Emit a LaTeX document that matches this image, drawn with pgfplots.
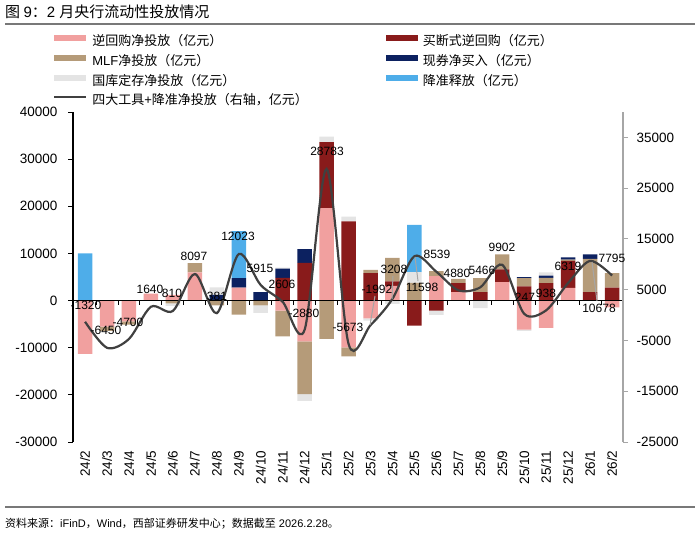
\documentclass[border=0pt]{standalone}
\usepackage{fontspec}
\setmainfont{Liberation Sans}
\newfontfamily\cjk{Noto Sans CJK SC}
\usepackage{pgfplots}
\usepackage{pgfplotstable}
\pgfplotsset{compat=1.18}

\definecolor{cpink}{RGB}{241,160,159}
\definecolor{cdred}{RGB}{137,27,27}
\definecolor{ctan}{RGB}{181,155,121}
\definecolor{cnavy}{RGB}{12,33,96}
\definecolor{cgray}{RGB}{228,228,228}
\definecolor{cblue}{RGB}{78,173,233}
\definecolor{cline}{RGB}{64,64,64}
\definecolor{crax}{RGB}{166,166,166}
\definecolor{crule}{RGB}{120,120,120}

% positive parts of each series
\pgfplotstableread{
x pink dred tan navy gray blue
0 0 0 0 0 0 10000
1 0 0 0 0 0 0
2 0 0 0 0 0 0
3 1500 0 0 0 0 0
4 1200 0 0 0 0 0
5 6000 0 1950 0 0 0
6 0 0 0 1200 1600 0
7 2750 0 0 2000 0 10000
8 0 0 0 1800 0 0
9 0 4800 0 2000 200 0
10 0 8000 0 2900 0 0
11 19600 14000 0 0 1200 0
12 0 16800 0 0 1000 0
13 0 5800 700 0 0 0
14 3100 950 5000 0 0 0
15 0 0 3750 0 2300 10000
16 5180 0 1060 0 0 0
17 1770 1920 930 0 0 0
18 0 1770 2980 0 0 0
19 3900 2700 3200 0 0 0
20 0 3000 1750 250 0 0
21 0 3700 1100 500 700 0
22 2700 5700 300 450 0 0
23 0 1770 7100 920 0 0
24 0 2750 3060 0 0 0
}\tpos

% negative parts of each series
\pgfplotstableread{
x pink dred tan navy gray blue
0 -11320 0 0 0 0 0
1 -5510 0 -940 0 0 0
2 -4400 0 -700 0 0 0
3 0 0 0 0 0 0
4 0 0 -600 0 -500 0
5 0 0 0 0 0 0
6 0 0 -1000 0 0 0
7 0 0 -3000 0 0 0
8 0 0 -1000 0 -1600 0
9 -2130 0 -5460 0 0 0
10 -8650 0 -11200 0 -1400 0
11 0 0 -8150 0 0 0
12 -9930 0 -1900 0 0 0
13 -3760 0 0 0 -500 0
14 0 0 0 0 -700 0
15 0 -5300 0 0 0 0
16 0 -2130 0 0 -900 0
17 0 0 0 0 0 0
18 0 0 0 0 -1600 0
19 0 0 0 0 0 0
20 -6170 0 0 0 -250 0
21 -5800 0 0 0 0 0
22 0 0 0 0 0 0
23 0 0 0 0 0 0
24 -1420 0 0 0 0 0
}\tneg

% four tools + RRR net injection (right axis)
\pgfplotstableread{
x v
0 -1320
1 -6450
2 -4700
3 1640
4 810
5 8097
6 381
7 12023
8 5915
9 2606
10 -2880
11 28783
12 -5673
13 -1992
14 3208
15 11598
16 8539
17 4880
18 5466
19 9902
20 247
21 938
22 6319
23 10678
24 7795
}\tline

\pgfplotsset{
  frame/.style={scale only axis, width=550bp, height=330bp,
    at={(73bp,-442bp)}, anchor=south west, xmin=-0.55, xmax=24.5},
  barlegend/.style={legend image code/.code={\fill[##1,/tikz/.cd,draw=none] (0bp,1.5bp) rectangle (32bp,7.5bp);}},
  linelegend/.style={legend image code/.code={\draw[##1,/tikz/.cd] (0bp,4.5bp) -- (32bp,4.5bp);}},
}

\begin{document}
\begin{tikzpicture}
\useasboundingbox (0,0) rectangle (700bp,-536bp);

% title and rules
\node[anchor=base west, inner sep=0pt, font=\fontsize{15bp}{17bp}\selectfont] at (5bp,-17.5bp)
  {{\cjk 图 }9{\cjk ：}2 {\cjk 月央行流动性投放情况}};
\draw[crule, line width=1.5bp] (5bp,-24bp) -- (695bp,-24bp);
\draw[crule, line width=1.2bp] (5bp,-507bp) -- (695bp,-507bp);
\node[anchor=base west, inner sep=0pt, font=\fontsize{11bp}{13bp}\selectfont] at (5bp,-527bp)
  {{\cjk 资料来源：}iFinD{\cjk ，}Wind{\cjk ，西部证券研发中心；数据截至} 2026.2.28{\cjk 。}};

% positive stacks, left axis, category labels, legend
\begin{axis}[frame, ybar stacked, bar width=0.66,
  ymin=-30000, ymax=40000, ytick={-30000,-20000,...,40000},
  axis y line*=left, axis x line*=bottom,
  x axis line style={draw=none},
  y axis line style={black, line width=1.3bp, -},
  xtick={0,...,24},
  xticklabels={24/2,24/3,24/4,24/5,24/6,24/7,24/8,24/9,24/10,24/11,24/12,25/1,25/2,25/3,25/4,25/5,25/6,25/7,25/8,25/9,25/10,25/11,25/12,26/1,26/2},
  xtick style={draw=none},
  ytick style={black, line width=1bp},
  tick align=outside, major tick length=5bp,
  scaled y ticks=false,
  yticklabel style={/pgf/number format/.cd, 1000 sep={}, assume math mode=true, /tikz/.cd, xshift=-7bp},
  tick label style={font=\fontsize{13.5bp}{16bp}\selectfont},
  xticklabel style={rotate=90, anchor=east},
  legend columns=2,
  legend cell align=left,
  legend style={draw=none, fill=none, inner sep=0pt,
    at={(axis description cs:-0.03636,1.2333)}, anchor=north west,
    font=\fontsize{13bp}{15bp}\selectfont,
    row sep=6.5bp, column sep=5bp,
    nodes={inner sep=0pt, text height=9bp, text depth=3bp},
    /tikz/every even column/.append style={column sep=78bp}},
]
\addplot[fill=cpink, draw=none, barlegend] table[x=x, y=pink] \tpos;
\addlegendentry{\cjk 逆回购净投放（亿元）}
\addplot[fill=cdred, draw=none, barlegend] table[x=x, y=dred] \tpos;
\addlegendentry{\cjk 买断式逆回购（亿元）}
\addplot[fill=ctan, draw=none, barlegend] table[x=x, y=tan] \tpos;
\addlegendentry{MLF{\cjk 净投放（亿元）}}
\addplot[fill=cnavy, draw=none, barlegend] table[x=x, y=navy] \tpos;
\addlegendentry{\cjk 现券净买入（亿元）}
\addplot[fill=cgray, draw=none, barlegend] table[x=x, y=gray] \tpos;
\addlegendentry{\cjk 国库定存净投放（亿元）}
\addplot[fill=cblue, draw=none, barlegend] table[x=x, y=blue] \tpos;
\addlegendentry{\cjk 降准释放（亿元）}
\addlegendimage{color=cline, line width=2.2bp, linelegend}
\addlegendentry{{\cjk 四大工具}+{\cjk 降准净投放（右轴，亿元）}}
\end{axis}

% negative stacks
\begin{axis}[frame, ybar stacked, bar width=0.66,
  ymin=-30000, ymax=40000, axis lines=none, ticks=none]
\addplot[fill=cpink, draw=none] table[x=x, y=pink] \tneg;
\addplot[fill=cdred, draw=none] table[x=x, y=dred] \tneg;
\addplot[fill=ctan, draw=none] table[x=x, y=tan] \tneg;
\addplot[fill=cnavy, draw=none] table[x=x, y=navy] \tneg;
\addplot[fill=cgray, draw=none] table[x=x, y=gray] \tneg;
\addplot[fill=cblue, draw=none] table[x=x, y=blue] \tneg;
\end{axis}

% zero line with category separators
\draw[black, line width=1.3bp] (68bp,-300.57bp) -- (623bp,-300.57bp);
\foreach \i in {0,...,23} {
  \draw[black, line width=1bp] ({(73+(\i+1.05)*21.956)*1bp},-300.57bp) -- ++(0,-4bp);
}

% right axis and line
\begin{axis}[frame,
  ymin=-25000, ymax=40000, ytick={-25000,-15000,...,35000},
  axis y line*=right, axis x line=none,
  y axis line style={crax, line width=1.5bp, -},
  ytick style={crax, line width=1bp},
  tick align=outside, major tick length=5bp,
  scaled y ticks=false,
  yticklabel style={/pgf/number format/.cd, 1000 sep={}, assume math mode=true, /tikz/.cd, xshift=5bp},
  tick label style={font=\fontsize{13.5bp}{16bp}\selectfont, black},
]
\addplot[smooth, tension=0.5, color=cline, line width=2.2bp] table[x=x, y=v] \tline;
\end{axis}

% leader lines
\draw[crax, line width=1bp] (370bp,-325bp) -- (375bp,-296bp);
\draw[crax, line width=1bp] (392bp,-299bp) -- (393bp,-276bp);
\draw[crax, line width=1bp] (415bp,-257bp) -- (418bp,-281bp);
\draw[crax, line width=1bp] (592bp,-262bp) -- (597bp,-301bp);

% data labels
\foreach \t/\x/\y in {-1320/86/305, -6450/106/330, -4700/128/322, 1640/150/289, 810/172/293,
  8097/194/256, 381/217/296, 12023/238/236, 5915/260/268, 2606/282/284, -2880/304/313,
  28783/327/151, -5673/348/327, -1992/377/289, 3208/394/269, 11598/422/287, 8539/437/254,
  4880/457/273, 5466/482/270, 9902/502/247, 247/525/297, 938/546/293, 6319/568/266,
  10678/599/308, 7795/612/258} {
  \node[inner sep=0pt, font=\fontsize{12bp}{14bp}\selectfont] at ({\x*1bp},{-\y*1bp}) {\t};
}
\end{tikzpicture}
\end{document}
